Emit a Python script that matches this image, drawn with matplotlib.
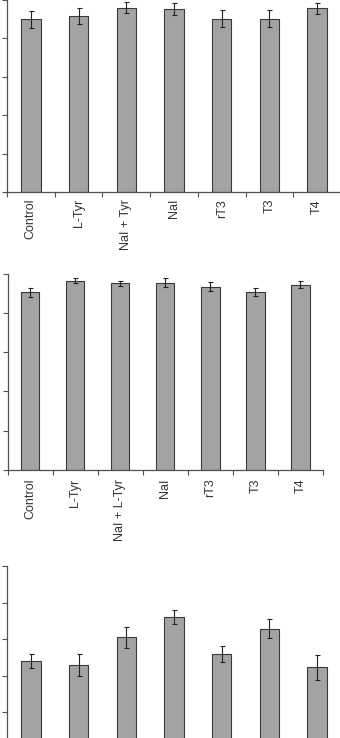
import numpy as np
import matplotlib

matplotlib.use("Agg")
import matplotlib.pyplot as plt

plt.rcParams["font.family"] = ["Liberation Sans", "DejaVu Sans"]

# panel A (top)
labels_a = ["Control", "L-Tyr", "NaI + Tyr", "NaI", "rT3", "T3", "T4"]
means_a = [4.49, 4.57, 4.79, 4.76, 4.50, 4.50, 4.77]
errs_a = [0.22, 0.20, 0.15, 0.15, 0.22, 0.22, 0.15]

# panel B (middle)
labels_b = ["Control", "L-Tyr", "NaI + L-Tyr", "NaI", "rT3", "T3", "T4"]
means_b = [4.54, 4.83, 4.76, 4.78, 4.68, 4.54, 4.73]
errs_b = [0.115, 0.06, 0.07, 0.115, 0.11, 0.11, 0.09]

# panel C (bottom, its x labels fall below the crop)
means_c = [2.40, 2.30, 3.05, 3.61, 2.60, 3.29, 2.23]
errs_c = [0.19, 0.30, 0.28, 0.20, 0.22, 0.26, 0.35]

W, H = 340, 738
BAR_COLOR = "#a3a3a3"
EDGE = "#3a3a3a"
AXIS = "#505050"


def px_rect(left, top, right, bottom):
    return [left / W, (H - bottom) / H, (right - left) / W, (bottom - top) / H]


def draw_panel(ax, means, errs, labels=None, label_pad=5):
    x = np.arange(len(means))
    ax.bar(x, means, width=0.41, color=BAR_COLOR, edgecolor=EDGE, linewidth=0.8, zorder=2)
    ax.errorbar(x, means, yerr=errs, fmt="none", ecolor="#222222", elinewidth=0.8,
                capsize=1.8, capthick=0.8, zorder=3)
    ax.set_xlim(-0.5, len(means) - 0.5)
    ax.set_ylim(0, 5)
    for side in ["top", "right"]:
        ax.spines[side].set_visible(False)
    for side in ["left", "bottom"]:
        ax.spines[side].set_color(AXIS)
        ax.spines[side].set_linewidth(0.9)
    ax.set_yticks(range(6))
    ax.set_yticklabels([])
    ax.set_xticks(np.arange(len(means) + 1) - 0.5)
    ax.set_xticklabels([])
    if labels is not None:
        ax.set_xticks(x, minor=True)
        ax.set_xticklabels(labels, minor=True, rotation=90, fontsize=9, color="#333333",
                           ha="center", va="top")
        ax.tick_params(axis="x", which="minor", length=0, pad=label_pad)
    ax.tick_params(axis="both", which="major", direction="out", length=3.5, width=0.8, color=AXIS)


fig = plt.figure(figsize=(W / 100, H / 100), dpi=100)

ax1 = fig.add_axes(px_rect(7, -0.5, 341, 192))
draw_panel(ax1, means_a, errs_a, labels_a, 5)

ax2 = fig.add_axes(px_rect(7.5, 274, 323, 469.7))
draw_panel(ax2, means_b, errs_b, labels_b, 6.5)

ax3 = fig.add_axes(px_rect(7, 566, 341, 749))
draw_panel(ax3, means_c, errs_c)

fig.savefig("out.png", dpi=100)
